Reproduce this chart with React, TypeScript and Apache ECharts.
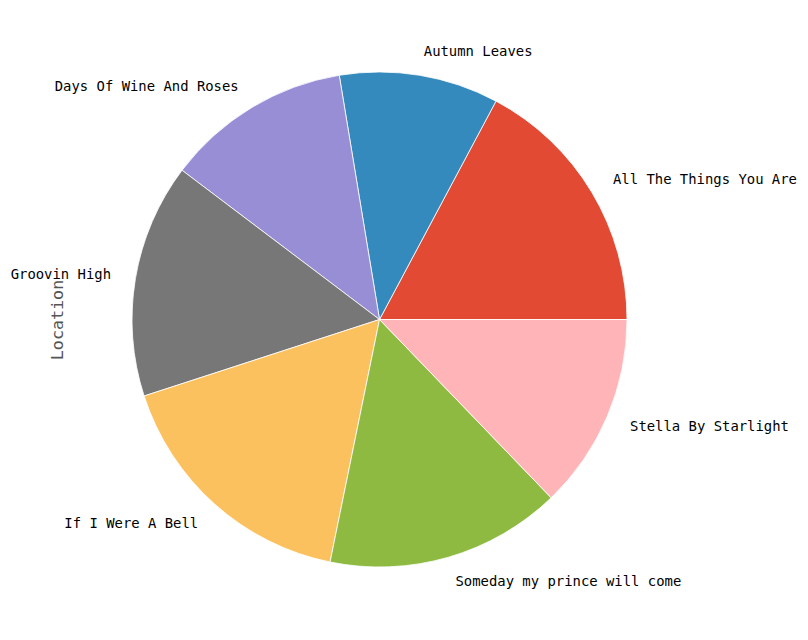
import React, { useEffect, useRef } from "react";
import * as echarts from "echarts";

const categories = [
  "All The Things You Are",
  "Autumn Leaves",
  "Days Of Wine And Roses",
  "Groovin High",
  "If I Were A Bell",
  "Someday my prince will come",
  "Stella By Starlight",
];
const values = [17.2, 10.4, 12.1, 15.3, 16.8, 15.4, 12.8];
const colors = ["#E24A33", "#348ABD", "#988ED5", "#777777", "#FBC15E", "#8EBA42", "#FFB5B8"];
const yLabel = "Location";

export default function App() {
  const ref = useRef<HTMLDivElement>(null);
  useEffect(() => {
    if (!ref.current) return;
    const chart = echarts.init(ref.current, undefined, { renderer: "svg" });
    const r = 247.5;
    chart.setOption({
      animation: false,
      backgroundColor: "#ffffff",
      graphic: [
        {
          type: "text",
          x: 57,
          y: 320,
          rotation: Math.PI / 2,
          style: {
            text: yLabel,
            font: "16.7px 'DejaVu Sans Mono'",
            fill: "#555555",
            textAlign: "center",
            textVerticalAlign: "middle",
          },
        },
      ],
      series: [
        {
          type: "pie",
          center: [379.5, 319.5],
          radius: r,
          startAngle: 0,
          clockwise: false,
          avoidLabelOverlap: false,
          minShowLabelAngle: 0,
          data: categories.map((c, i) => ({
            name: c,
            value: values[i],
            itemStyle: { color: colors[i] },
          })),
          itemStyle: { borderColor: "#ffffff", borderWidth: 0.8 },
          label: {
            show: true,
            position: "outside",
            formatter: "{b}",
            fontFamily: "DejaVu Sans Mono",
            fontSize: 13.9,
            color: "#000000",
            distanceToLabelLine: 0,
            alignTo: "none",
          },
          labelLine: { show: false, length: r * 0.1, length2: 0 },
          emphasis: { disabled: true },
        },
      ],
    });
    return () => chart.dispose();
  }, []);
  return (
    <div
      ref={ref}
      style={{ position: "absolute", left: 0, top: 0, width: 808, height: 640 }}
    />
  );
}
